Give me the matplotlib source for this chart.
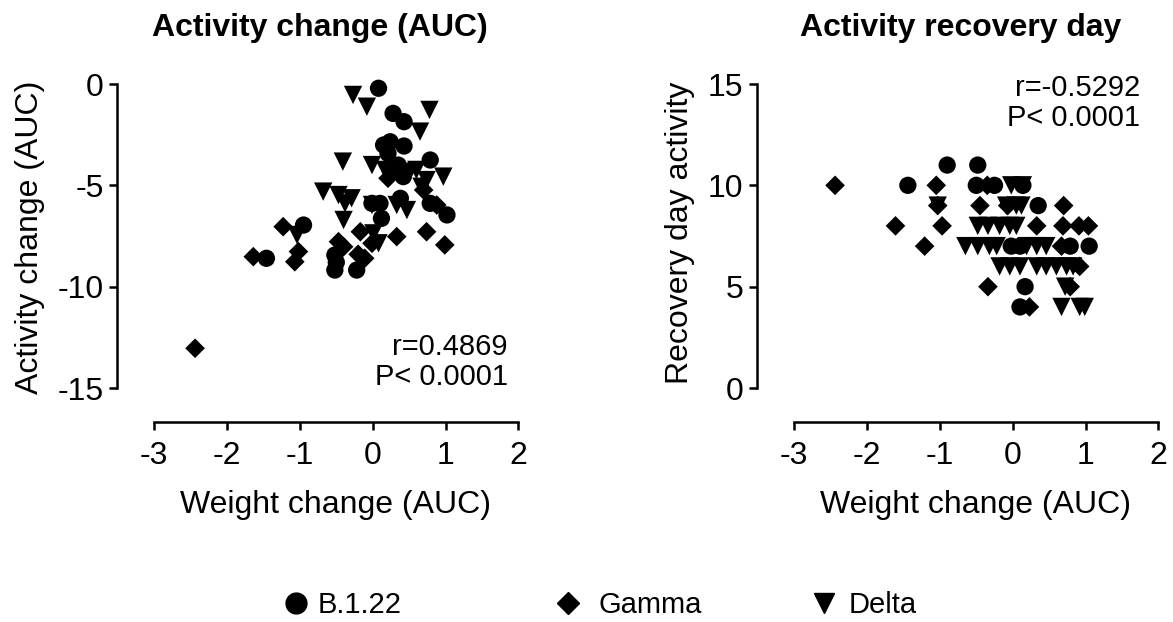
import matplotlib
matplotlib.use('Agg')
import matplotlib.pyplot as plt
from matplotlib.lines import Line2D

plt.rcParams['font.family'] = ['Liberation Sans', 'DejaVu Sans']

# Panel A: weight change vs activity change (AUC)
b122_wx = [0.08, 0.28, 0.43, 0.15, 0.24, 0.43, 0.21, 0.79, 0.35, 0.42, 0.38, -0.01, 0.10,
           0.12, 1.02, 0.79, -0.95, -1.46, -0.52, -0.52, -0.22, -0.50]
b122_act = [-0.21, -1.45, -1.86, -3.01, -2.85, -3.06, -3.42, -3.75, -4.0, -4.57, -5.64, -5.89,
            -5.89, -6.63, -6.46, -5.89, -6.96, -8.6, -8.44, -9.18, -9.18, -8.8]
gamma_wx = [-2.44, -1.64, -1.23, -1.02, -1.07, -0.47, -0.17, -0.11, 0.33, 0.74, 0.99, 0.70,
            0.88, 0.21, -0.40, -0.01, -0.20]
gamma_act = [-13.04, -8.52, -7.04, -8.27, -8.77, -7.78, -7.29, -8.6, -7.53, -7.29, -7.94, -5.23,
             -5.97, -4.65, -8.03, -7.86, -8.4]
delta_wx = [-0.27, -0.08, 0.78, 0.65, -0.41, -0.01, 0.17, 0.51, 0.60, 0.24, 0.74, 0.97, -0.68,
            -0.47, -0.29, -0.38, -0.40, -0.01, 0.33, 0.47, 0.67, 0.01, 0.08, -1.04]
delta_act = [-0.54, -1.12, -1.28, -2.35, -3.83, -4.0, -4.24, -4.33, -4.24, -4.57, -4.74, -4.57,
             -5.31, -5.48, -5.64, -5.89, -6.71, -5.97, -5.97, -6.22, -5.07, -7.37, -7.86, -7.45]

# Panel B: weight change vs recovery day
b122_wx2 = [-0.90, -0.48, -1.44, -0.50, -0.25, 0.14, 0.35, -0.02, 0.10, 0.79, 1.05, 0.17, 0.10]
b122_day = [11, 11, 10, 10, 10, 10, 9, 7, 7, 7, 7, 5, 4]
gamma_wx2 = [-2.44, -1.05, -0.35, -1.03, -0.45, -0.07, 0.70, -1.61, -0.97, 0.33, 0.69, 0.91,
             1.04, -1.21, 0.67, 0.92, -0.34, 0.79, 0.23]
gamma_day = [10, 10, 10, 9, 9, 9, 9, 8, 8, 8, 8, 8, 8, 7, 7, 6, 5, 5, 4]
delta_wx2 = [-0.02, 0.14, -1.03, -0.09, 0.05, 0.12, -0.48, -0.34, -0.18, -0.04, 0.05, -0.65,
             -0.48, -0.32, -0.22, 0.19, 0.33, 0.46, -0.18, -0.04, 0.10, 0.33, 0.46, 0.60,
             0.74, 0.83, 0.72, 0.67, 0.92, 0.99]
delta_day = [10, 10, 9, 9, 9, 9, 8, 8, 8, 8, 8, 7, 7, 7, 7, 7, 7, 7, 6, 6, 6, 6, 6, 6, 6, 6,
             5, 4, 4, 4]

series_names = ['B.1.22', 'Gamma', 'Delta']
markers = ['o', 'D', 'v']
sizes = [155, 100, 175]

W, H = 1173, 622
fig = plt.figure(figsize=(W / 100, H / 100), dpi=100)


def px(x, y):
    # pixel position (from top-left) to figure fraction
    return x / W, 1 - y / H


def make_axes(x0, x1, y0, y1):
    ax = fig.add_axes([x0 / W, 1 - y1 / H, (x1 - x0) / W, (y1 - y0) / H])
    for s in ['top', 'right']:
        ax.spines[s].set_visible(False)
    ax.spines['left'].set_position(('outward', 26.5))
    ax.spines['bottom'].set_position(('outward', 24.5))
    for s in ['left', 'bottom']:
        ax.spines[s].set_linewidth(1.8)
    ax.tick_params(width=1.8, length=6, labelsize=23)
    ax.tick_params(axis='x', pad=8)
    ax.tick_params(axis='y', pad=4)
    ax.patch.set_visible(False)
    return ax


def draw(ax, xs, ys):
    for (x, y), m, sz in zip(zip(xs, ys), markers, sizes):
        ax.scatter(x, y, marker=m, s=sz, color='black', edgecolors='none', clip_on=False)


ax1 = make_axes(154.3, 518.3, 84, 388)
draw(ax1, [b122_wx, gamma_wx, delta_wx], [b122_act, gamma_act, delta_act])
ax1.set_xlim(-3, 2)
ax1.set_ylim(-15, 0)
ax1.set_xticks([-3, -2, -1, 0, 1, 2])
ax1.set_yticks([-15, -10, -5, 0])
ax1.set_xticklabels(['-3', '-2', '-1', '0', '1', '2'])
ax1.set_yticklabels(['-15', '-10', '-5', '0'])
fig.text(*px(336, 505), 'Weight change (AUC)', ha='center', va='center', fontsize=23)
fig.text(*px(508, 347), 'r=0.4869', ha='right', va='center', fontsize=21)
fig.text(*px(508, 377), 'P< 0.0001', ha='right', va='center', fontsize=21)
fig.text(*px(30, 237), 'Activity change (AUC)', rotation=90, ha='center', va='center', fontsize=23)
fig.text(*px(320, 28), 'Activity change (AUC)', ha='center', va='center', fontsize=23, fontweight='bold')

ax2 = make_axes(794.3, 1158.3, 84, 388)
draw(ax2, [b122_wx2, gamma_wx2, delta_wx2], [b122_day, gamma_day, delta_day])
ax2.set_xlim(-3, 2)
ax2.set_ylim(0, 15)
ax2.set_xticks([-3, -2, -1, 0, 1, 2])
ax2.set_yticks([0, 5, 10, 15])
ax2.set_xticklabels(['-3', '-2', '-1', '0', '1', '2'])
fig.text(*px(976, 505), 'Weight change (AUC)', ha='center', va='center', fontsize=23)
fig.text(*px(1140, 88), 'r=-0.5292', ha='right', va='center', fontsize=21)
fig.text(*px(1140, 118), 'P< 0.0001', ha='right', va='center', fontsize=21)
fig.text(*px(680, 233), 'Recovery day activity', rotation=90, ha='center', va='center', fontsize=23)
fig.text(*px(961, 28), 'Activity recovery day', ha='center', va='center', fontsize=23, fontweight='bold')

# legend entries are spaced unevenly in the original, so one legend per entry
legend_x = [278, 550, 806]
legend_pad = [0.15, 0.45, 0.25]
for name, m, ms, lx, tp in zip(series_names, markers, [15, 11.5, 15], legend_x, legend_pad):
    h = Line2D([], [], marker=m, linestyle='none', color='black', markersize=ms)
    fig.legend([h], [name], loc='center left', bbox_to_anchor=px(lx, 605), frameon=False,
               fontsize=21, handletextpad=tp, borderpad=0, borderaxespad=0, handlelength=1.2)

fig.savefig('out.png', dpi=100)
